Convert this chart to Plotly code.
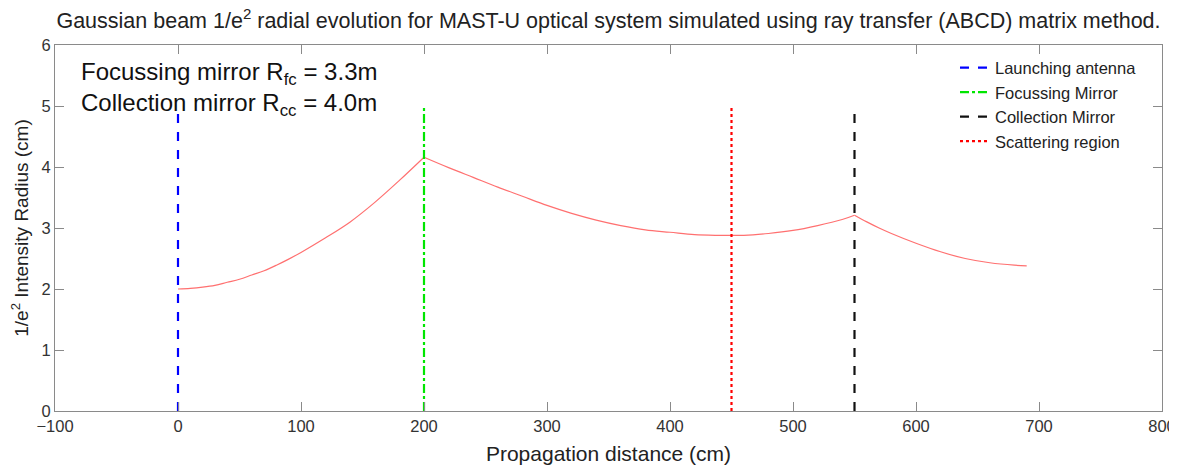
import plotly.graph_objects as go

# beam 1/e^2 radius (cm vs cm), one segment per optical section
z_seg1 = [0, 10, 20, 30, 40, 50, 60, 70, 80, 90, 100, 120, 140, 160, 180, 200]
r_seg1 = [2.00, 2.01, 2.03, 2.06, 2.11, 2.16, 2.23, 2.30, 2.39, 2.49, 2.60, 2.84, 3.10, 3.42, 3.78, 4.16]

z_seg2 = [200, 220, 240, 260, 280, 300, 320, 340, 360, 380, 400, 420, 440, 460, 480, 500, 520, 540, 550]
r_seg2 = [4.16, 3.99, 3.83, 3.67, 3.52, 3.37, 3.24, 3.13, 3.04, 2.97, 2.93, 2.89, 2.88, 2.88, 2.91, 2.96, 3.04, 3.14, 3.21]

z_seg3 = [550, 560, 570, 580, 600, 620, 640, 660, 680, 690]
r_seg3 = [3.21, 3.10, 3.00, 2.91, 2.75, 2.61, 2.50, 2.43, 2.39, 2.38]

# optical elements: name, position (cm), colour, dash
element_names = ["Launching antenna", "Focussing Mirror", "Collection Mirror", "Scattering region"]
element_pos = [0, 200, 550, 450]
element_colors = ["#0000ff", "#00e600", "#111111", "#ff0000"]
element_dash = ["dash", "dashdot", "dash", "dot"]
marker_height = [0, 5]

fig = go.Figure()

for zs, rs in [(z_seg1, r_seg1), (z_seg2, r_seg2), (z_seg3, r_seg3)]:
    fig.add_trace(go.Scatter(
        x=zs, y=rs, mode="lines", line_shape="spline",
        line=dict(color="#ff7070", width=1.2),
        showlegend=False, hoverinfo="skip",
    ))

for name, pos, col, dash in zip(element_names, element_pos, element_colors, element_dash):
    fig.add_trace(go.Scatter(
        x=[pos, pos], y=marker_height, mode="lines", name=name,
        line=dict(color=col, width=2.2, dash=dash),
    ))

axis_style = dict(
    showline=True, linecolor="#8a8a8a", linewidth=1, mirror="ticks",
    ticks="inside", ticklen=9, tickcolor="#8a8a8a",
    showgrid=False, zeroline=False, automargin=False,
    ticklabeloverflow="allow",
    tickfont=dict(size=16.5, color="#333333"),
)

fig.update_xaxes(range=[-100, 800], dtick=100, **axis_style,
                 title=dict(text="Propagation distance (cm)", font=dict(size=21, color="#222222"), standoff=12))
fig.update_yaxes(range=[0, 6], dtick=1, **axis_style,
                 title=dict(text="1/e<sup>2</sup> Intensity Radius (cm)", font=dict(size=19, color="#222222"), standoff=8))

fig.add_annotation(
    text="Focussing mirror R<sub>fc</sub> = 3.3m<br>Collection mirror R<sub>cc</sub> = 4.0m",
    xref="paper", yref="paper", x=0.022, y=0.97, xanchor="left", yanchor="top",
    showarrow=False, align="left", font=dict(size=24, color="#111111"),
)

# page body adds an 8px margin on the left/top, so the figure is sized to end at the window edge
fig.update_layout(
    width=1169, height=457,
    margin=dict(l=47, r=15, t=37, b=54),
    paper_bgcolor="white", plot_bgcolor="white",
    font=dict(family="Liberation Sans, Arial, sans-serif", color="#222222"),
    title=dict(
        text="Gaussian beam 1/e<sup>2</sup> radial evolution for MAST-U optical system simulated using ray transfer (ABCD) matrix method.",
        x=0.5, xref="paper", xanchor="center", y=1 - 12 / 457, yanchor="middle", yref="container",
        font=dict(size=21.5, color="#222222"),
    ),
    legend=dict(
        x=0.813, y=0.985, xanchor="left", yanchor="top",
        bgcolor="rgba(255,255,255,0)", borderwidth=0,
        font=dict(size=16.5, color="#222222"), tracegroupgap=0,
    ),
)

fig.write_html("out.html")
